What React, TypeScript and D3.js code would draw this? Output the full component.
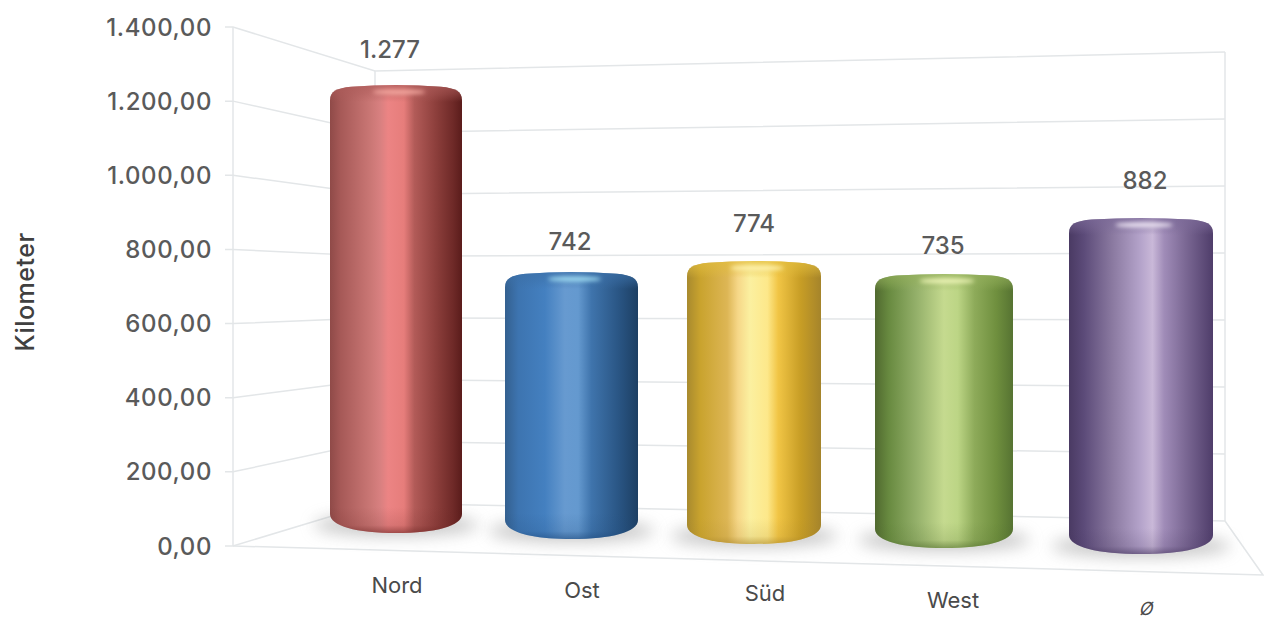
import React from "react";
import * as d3 from "d3";

const categories = ["Nord", "Ost", "Süd", "West", "Ø"];
const kilometers = [1277, 742, 774, 735, 882];
const valueLabels = ["1.277", "742", "774", "735", "882"];
const axisTicks = [0, 200, 400, 600, 800, 1000, 1200, 1400];
const axisTitle = "Kilometer";

const WIDTH = 1264;
const HEIGHT = 619;
const FONT = "Inter, 'Noto Sans', sans-serif";

// Perspective of the box, measured in the picture
const yFront = d3.scaleLinear().domain([0, 1400]).range([546, 27]);
const yBackL = d3.scaleLinear().domain([0, 1400]).range([503, 71]);
const yBackR = d3.scaleLinear().domain([0, 1400]).range([521, 52]);
const X_FRONT = 233;
const X_BACK_L = 375;
const X_BACK_R = 1225;
const FLOOR_CORNER = { x: 1263, y: 575 };

const idx = [0, 1, 2, 3, 4];
const xLeft = d3.scaleLinear().domain(idx).range([330, 505, 687, 875, 1069]);
const xRight = d3.scaleLinear().domain(idx).range([462, 638, 821, 1013, 1213]);
const yBase = d3.scaleLinear().domain(idx).range([533, 539, 544, 548, 554]);
const pxPerKm = d3.scaleLinear().domain(idx).range([0.3508, 0.3598, 0.3656, 0.3728, 0.381]);
const labelX = d3.scaleLinear().domain(idx).range([390, 570, 754, 943, 1145]);
const labelLift = d3.scaleLinear().domain(idx).range([36, 31, 38, 29, 38]);
const catX = d3.scaleLinear().domain(idx).range([397, 582, 765, 953, 1147]);
const catY = d3.scaleLinear().domain(idx).range([585, 590, 593, 600, 609]);

type Look = { stops: [number, string][]; cap: string; glow: string; foot: string };
const looks: Look[] = [
  {
    stops: [[0, "#8f4a48"], [0.08, "#a65957"], [0.3, "#c97674"], [0.38, "#d88080"], [0.44, "#ec8484"], [0.56, "#e67d7b"], [0.64, "#b25b58"], [0.8, "#8d3f3c"], [0.93, "#6f2a28"], [1, "#5a1c1b"]],
    cap: "#ad5c5a", glow: "#f4a8a0", foot: "#6e2624",
  },
  {
    stops: [[0, "#34608f"], [0.1, "#3d74b0"], [0.3, "#4480c0"], [0.45, "#679ad0"], [0.55, "#6499cf"], [0.65, "#3f74ac"], [0.85, "#2a5685"], [1, "#1d3f63"]],
    cap: "#3c70a8", glow: "#9fdcf2", foot: "#1f4a7c",
  },
  {
    stops: [[0, "#a88a2e"], [0.1, "#c9a32e"], [0.3, "#ddb655"], [0.38, "#f6d788"], [0.47, "#fbf0a0"], [0.6, "#fde88a"], [0.68, "#f1c545"], [0.85, "#c79d25"], [1, "#a5842b"]],
    cap: "#e2bd3e", glow: "#fff4b0", foot: "#a8852a",
  },
  {
    stops: [[0, "#50692f"], [0.1, "#688a40"], [0.3, "#94b06a"], [0.5, "#c5da8f"], [0.6, "#bcd585"], [0.72, "#8eab5a"], [0.88, "#6f8f3e"], [1, "#567332"]],
    cap: "#94b05c", glow: "#eef5b8", foot: "#4f6b2c",
  },
  {
    stops: [[0, "#4a3a63"], [0.1, "#5b4a78"], [0.3, "#8a79a0"], [0.5, "#b5a4cb"], [0.58, "#c9b8d8"], [0.66, "#a08cb8"], [0.8, "#7d6a96"], [1, "#4f3d6a"]],
    cap: "#7c6a98", glow: "#eee6f4", foot: "#43335c",
  },
];

const fmtTick = (v: number) =>
  new Intl.NumberFormat("de-DE", { minimumFractionDigits: 2, maximumFractionDigits: 2 }).format(v);

function barPath(x0: number, x1: number, t: number, b: number) {
  const w = x1 - x0;
  const c = (x0 + x1) / 2;
  return [
    `M${x0},${t + 15}`,
    `C${x0},${t + 6} ${x0 + 7},${t + 3} ${x0 + w * 0.16},${t + 1.6}`,
    `Q${c},${t - 1.6} ${x1 - w * 0.16},${t + 1.6}`,
    `C${x1 - 7},${t + 3} ${x1},${t + 6} ${x1},${t + 15}`,
    `L${x1},${b - 19}`,
    `C${x1},${b - 7} ${x1 - w * 0.2},${b} ${c},${b}`,
    `C${x0 + w * 0.2},${b} ${x0},${b - 7} ${x0},${b - 19}`,
    "Z",
  ].join(" ");
}

const GRID = "#e3e6e8";

export default function App() {
  const bars = kilometers.map((v, i) => {
    const x0 = xLeft(i);
    const x1 = xRight(i);
    const b = yBase(i);
    const t = b - v * pxPerKm(i);
    return { i, v, x0, x1, b, t, w: x1 - x0, c: (x0 + x1) / 2 };
  });

  return (
    <svg
      width={WIDTH}
      height={HEIGHT}
      viewBox={`0 0 ${WIDTH} ${HEIGHT}`}
      style={{ position: "absolute", left: 0, top: 0, background: "#fff" }}
    >
      <defs>
        <filter id="soft" x="-30%" y="-100%" width="160%" height="300%">
          <feGaussianBlur stdDeviation="8" />
        </filter>
        <filter id="glow" x="-50%" y="-200%" width="200%" height="500%">
          <feGaussianBlur stdDeviation="2" />
        </filter>
        {bars.map((d) => (
          <React.Fragment key={d.i}>
            <linearGradient id={`side${d.i}`} x1="0" x2="1" y1="0" y2="0">
              {looks[d.i].stops.map(([o, col]) => (
                <stop key={o} offset={o} stopColor={col} />
              ))}
            </linearGradient>
            <linearGradient id={`cap${d.i}`} x1="0" x2="0" y1="0" y2="1">
              <stop offset="0" stopColor={looks[d.i].cap} stopOpacity="0.85" />
              <stop offset="0.6" stopColor={looks[d.i].cap} stopOpacity="0.4" />
              <stop offset="1" stopColor={looks[d.i].cap} stopOpacity="0" />
            </linearGradient>
            <linearGradient id={`foot${d.i}`} x1="0" x2="0" y1="0" y2="1">
              <stop offset="0" stopColor={looks[d.i].foot} stopOpacity="0" />
              <stop offset="0.65" stopColor={looks[d.i].foot} stopOpacity="0.15" />
              <stop offset="1" stopColor={looks[d.i].foot} stopOpacity="0.7" />
            </linearGradient>
            <clipPath id={`clip${d.i}`}>
              <path d={barPath(d.x0, d.x1, d.t, d.b)} />
            </clipPath>
          </React.Fragment>
        ))}
      </defs>

      {/* Walls and floor */}
      <g fill="none" stroke={GRID} strokeWidth={1.5}>
        <line x1={X_FRONT} x2={X_FRONT} y1={yFront(1400)} y2={yFront(0)} />
        <line x1={X_BACK_L} x2={X_BACK_L} y1={yBackL(1400)} y2={yBackL(0)} />
        <line x1={X_BACK_R} x2={X_BACK_R} y1={yBackR(1400)} y2={yBackR(0)} />
        {axisTicks.map((t) => (
          <path
            key={t}
            d={`M${X_FRONT - 8},${yFront(t)} L${X_FRONT},${yFront(t)} L${X_BACK_L},${yBackL(t)} L${X_BACK_R},${yBackR(t)}`}
          />
        ))}
        <path d={`M${X_FRONT},${yFront(0)} L${FLOOR_CORNER.x},${FLOOR_CORNER.y} L${X_BACK_R},${yBackR(0)}`} />
      </g>

      {/* Shadows */}
      {bars.map((d) => (
        <ellipse
          key={d.i}
          cx={d.c}
          cy={d.b - 8}
          rx={d.w * 0.62}
          ry={11}
          fill="#9a9a9a"
          opacity={0.55}
          filter="url(#soft)"
        />
      ))}

      {/* Cylinders */}
      {bars.map((d) => (
        <g key={d.i} clipPath={`url(#clip${d.i})`}>
          <rect x={d.x0} y={d.t - 3} width={d.w} height={d.b - d.t + 6} fill={`url(#side${d.i})`} />
          <rect x={d.x0} y={d.t - 3} width={d.w} height={20} fill={`url(#cap${d.i})`} />
          <rect x={d.x0} y={d.b - 26} width={d.w} height={28} fill={`url(#foot${d.i})`} />
          <ellipse
            cx={d.c + 3}
            cy={d.t + 7}
            rx={d.w * 0.2}
            ry={2.4}
            fill={looks[d.i].glow}
            filter="url(#glow)"
          />
        </g>
      ))}

      {/* Axis labels */}
      <g fontFamily={FONT} fill="#5a5a5a" fontSize={24} fontWeight={500} letterSpacing={0.6} textAnchor="end">
        {axisTicks.map((t) => (
          <text key={t} x={212} y={yFront(t)} dy="0.36em">
            {fmtTick(t)}
          </text>
        ))}
      </g>

      {/* Values */}
      <g fontFamily={FONT} fill="#5a5a5a" fontSize={24} fontWeight={500} textAnchor="middle">
        {bars.map((d) => (
          <text key={d.i} x={labelX(d.i)} y={d.t - labelLift(d.i)} dy="0.36em">
            {valueLabels[d.i]}
          </text>
        ))}
      </g>

      {/* Categories */}
      <g fontFamily={FONT} fill="#4a4a4a" fontSize={22} textAnchor="middle">
        {categories.map((c, i) => (
          <text
            key={c}
            transform={`translate(${catX(i)},${catY(i)}) ${c === "Ø" ? "skewX(-14)" : ""}`}
            dy="0.36em"
            fontSize={c === "Ø" ? 18 : 22}
          >
            {c}
          </text>
        ))}
      </g>

      <text
        transform="translate(25,292) rotate(-90)"
        fontFamily={FONT}
        fontSize={25}
        fontWeight={500}
        letterSpacing={0.5}
        fill="#404040"
        textAnchor="middle"
        dy="0.36em"
      >
        {axisTitle}
      </text>
    </svg>
  );
}
